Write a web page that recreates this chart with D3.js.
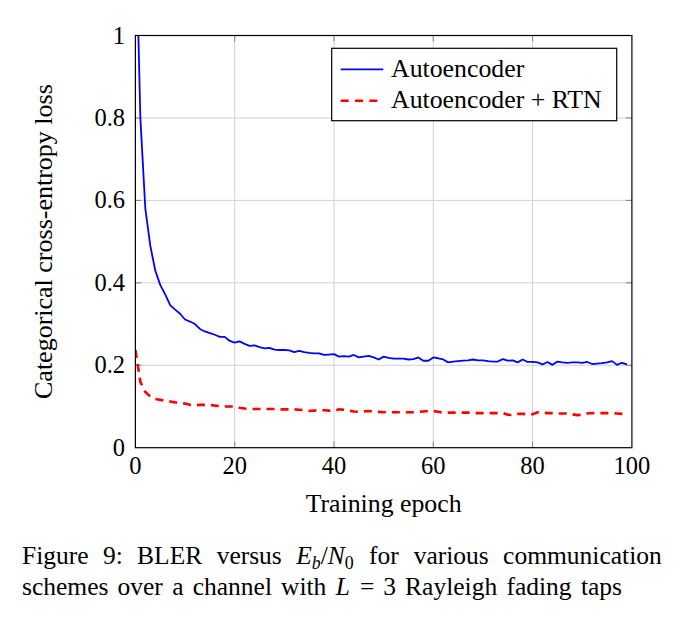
<!DOCTYPE html>
<html><head><meta charset="utf-8">
<script src="https://cdn.jsdelivr.net/npm/d3@7"></script>
<style>
html,body{margin:0;padding:0;background:#fff;}
text{font-family:"Liberation Serif","Times New Roman",serif;fill:#000;}
</style></head>
<body><svg id="c" width="684" height="638"></svg>
<script>
const epochs = d3.range(0, 100);
const autoencoder = [1.30,0.80,0.58,0.49,0.43,0.395,0.372,0.346,0.335,0.325,
0.311,0.306,0.300,0.288,0.282,0.278,0.274,0.269,0.269,0.259,
0.255,0.258,0.252,0.247,0.248,0.244,0.241,0.242,0.238,0.237,
0.237,0.236,0.232,0.235,0.232,0.230,0.229,0.229,0.225,0.226,
0.227,0.221,0.222,0.221,0.225,0.219,0.221,0.223,0.219,0.214,
0.221,0.218,0.216,0.216,0.216,0.214,0.215,0.219,0.211,0.211,
0.219,0.217,0.214,0.207,0.209,0.210,0.211,0.212,0.214,0.212,
0.212,0.210,0.209,0.209,0.215,0.211,0.212,0.207,0.214,0.208,
0.208,0.207,0.202,0.208,0.201,0.209,0.207,0.206,0.207,0.207,
0.206,0.208,0.203,0.204,0.205,0.207,0.210,0.201,0.206,0.202];
const autoencoderRTN = [0.237,0.160,0.135,0.124,0.118,0.116,0.114,0.112,0.110,0.109,
0.107,0.104,0.103,0.104,0.104,0.104,0.102,0.101,0.100,0.100,
0.100,0.097,0.095,0.094,0.094,0.094,0.094,0.094,0.094,0.093,
0.093,0.093,0.093,0.092,0.091,0.089,0.090,0.091,0.091,0.090,
0.089,0.093,0.092,0.090,0.088,0.087,0.088,0.089,0.088,0.087,
0.086,0.086,0.086,0.086,0.086,0.086,0.086,0.087,0.088,0.089,
0.089,0.087,0.085,0.085,0.085,0.085,0.085,0.085,0.084,0.084,
0.084,0.084,0.084,0.084,0.084,0.080,0.079,0.082,0.082,0.081,
0.081,0.086,0.085,0.084,0.084,0.083,0.083,0.083,0.081,0.079,
0.080,0.083,0.084,0.084,0.084,0.084,0.084,0.083,0.082,0.079];
const xTicks = [0,20,40,60,80,100];
const yTicks = [0,0.2,0.4,0.6,0.8,1];
const seriesNames = ["Autoencoder","Autoencoder + RTN"];
const xLabel = "Training epoch";
const yLabel = "Categorical cross-entropy loss";

const svg = d3.select("#c");
svg.append("rect").attr("width",684).attr("height",638).attr("fill","#fff");
const L = 135.4, R = 631.9, T = 35.5, B = 447.7;
const x = d3.scaleLinear().domain([0,100]).range([L,R]);
const y = d3.scaleLinear().domain([0,1]).range([B,T]);

// grid
const grid = svg.append("g");
grid.selectAll(".gx").data(xTicks.slice(1,-1)).join("line")
  .attr("x1",d=>x(d)).attr("x2",d=>x(d)).attr("y1",T).attr("y2",B)
  .attr("stroke","#d0d0d0").attr("stroke-width",1);
grid.selectAll(".gy").data(yTicks.slice(1,-1)).join("line")
  .attr("y1",d=>y(d)).attr("y2",d=>y(d)).attr("x1",L).attr("x2",R)
  .attr("stroke","#d0d0d0").attr("stroke-width",1);

// tick marks (inside, all sides)
const tk = 6, tc = "#808080";
const ticks = svg.append("g").attr("stroke",tc).attr("stroke-width",1);
xTicks.slice(1,-1).forEach(d=>{
  ticks.append("line").attr("x1",x(d)).attr("x2",x(d)).attr("y1",B).attr("y2",B-tk);
  ticks.append("line").attr("x1",x(d)).attr("x2",x(d)).attr("y1",T).attr("y2",T+tk);
});
yTicks.slice(1,-1).forEach(d=>{
  ticks.append("line").attr("y1",y(d)).attr("y2",y(d)).attr("x1",L).attr("x2",L+tk);
  ticks.append("line").attr("y1",y(d)).attr("y2",y(d)).attr("x1",R).attr("x2",R-tk);
});

// clip
svg.append("clipPath").attr("id","clip").append("rect")
  .attr("x",L).attr("y",T).attr("width",R-L).attr("height",B-T);

const line = d3.line().x((d,i)=>x(epochs[i])).y(d=>y(d));
const plot = svg.append("g").attr("clip-path","url(#clip)");
plot.append("path").datum(autoencoder).attr("d",line)
  .attr("fill","none").attr("stroke","#0000ff").attr("stroke-width",1.8)
  .attr("stroke-linejoin","round");
plot.append("path").datum(autoencoderRTN).attr("d",line)
  .attr("fill","none").attr("stroke","#ff0000").attr("stroke-width",2.6)
  .attr("stroke-dasharray","8,6");

// axis box
svg.append("rect").attr("x",L).attr("y",T).attr("width",R-L).attr("height",B-T)
  .attr("fill","none").attr("stroke","#000").attr("stroke-width",1.2);

// tick labels
const fmt = d=> d===0?"0":(d===1?"1":d3.format(".1f")(d));
svg.append("g").selectAll("text").data(xTicks).join("text")
  .attr("x",d=>x(d)).attr("y",474).attr("text-anchor","middle")
  .attr("font-size",24.5).text(d=>d);
svg.append("g").selectAll("text").data(yTicks).join("text")
  .attr("x",125).attr("y",d=>y(d)+8).attr("text-anchor","end")
  .attr("font-size",24.5).text(fmt);

// axis labels
svg.append("text").attr("x",(L+R)/2).attr("y",512).attr("text-anchor","middle")
  .attr("font-size",25.8).text(xLabel);
svg.append("text").attr("transform",`translate(52,${(T+B)/2}) rotate(-90)`)
  .attr("text-anchor","middle").attr("font-size",26).text(yLabel);

// legend
const lg = svg.append("g");
lg.append("rect").attr("x",331.7).attr("y",48.3).attr("width",285).attr("height",72.4)
  .attr("fill","#fff").attr("stroke","#000").attr("stroke-width",1.2);
lg.append("line").attr("x1",340.7).attr("x2",383.3).attr("y1",69.3).attr("y2",69.3)
  .attr("stroke","#0000ff").attr("stroke-width",1.8);
lg.append("line").attr("x1",340.7).attr("x2",383.3).attr("y1",100.7).attr("y2",100.7)
  .attr("stroke","#ff0000").attr("stroke-width",2.6).attr("stroke-dasharray","8,6.3");
lg.append("text").attr("x",391).attr("y",76.5).attr("font-size",25.8).text(seriesNames[0]);
lg.append("text").attr("x",391).attr("y",107.8).attr("font-size",25.8).text(seriesNames[1]);

// caption
const capFS = 25.5;
function addWord(g, parts){
  const t = g.append("text").attr("font-size",capFS);
  parts.forEach(p=>{
    const s = t.append("tspan").text(p.t);
    if(p.i) s.attr("font-style","italic");
    if(p.sub){ s.attr("font-size",capFS*0.7).attr("dy",5); }
    if(p.up){ s.attr("dy",-5); }
  });
  return t;
}
function justify(words, yb, x0, x1){
  const g = svg.append("g").attr("transform",`translate(0,${yb})`);
  const els = words.map(w=>addWord(g,w));
  const widths = els.map(e=>e.node().getBBox().width);
  const total = widths.reduce((a,b)=>a+b,0);
  const gap = (x1-x0-total)/(els.length-1);
  let cx = x0;
  els.forEach((e,i)=>{ e.attr("x",cx); e.select("tspan").attr("x",cx); cx += widths[i]+gap; });
}
justify([
  [{t:"Figure"}],[{t:"9:"}],[{t:"BLER"}],[{t:"versus"}],
  [{t:"E",i:1},{t:"b",i:1,sub:1},{t:"/",up:1},{t:"N",i:1},{t:"0",sub:1}],
  [{t:"for"}],[{t:"various"}],[{t:"communication"}]
], 564, 22, 662);
justify([
  [{t:"schemes"}],[{t:"over"}],[{t:"a"}],[{t:"channel"}],[{t:"with"}],
  [{t:"L",i:1}],[{t:"="}],[{t:"3"}],[{t:"Rayleigh"}],[{t:"fading"}],[{t:"taps"}]
], 595, 22, 622);
</script></body></html>
